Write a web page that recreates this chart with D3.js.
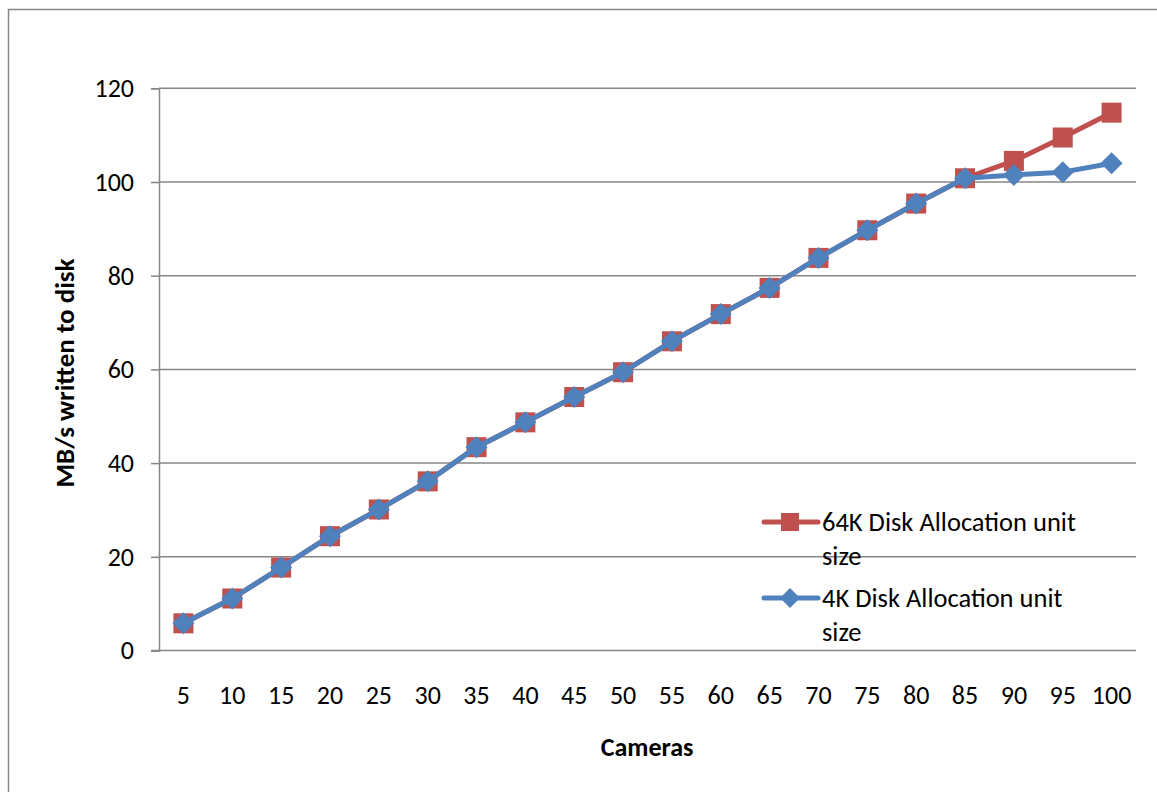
<!DOCTYPE html>
<html><head><meta charset="utf-8">
<script src="https://cdn.jsdelivr.net/npm/d3@7"></script>
<style>body{margin:0;background:#fff;}svg{display:block;font-family:Calibri,Carlito,Lato,sans-serif;}</style>
</head><body>
<svg id="chart" width="1157" height="792"></svg>
<script>
const categories = ["5","10","15","20","25","30","35","40","45","50","55","60","65","70","75","80","85","90","95","100"];
const series64K = [5.8,11.1,17.7,24.4,30.1,36.1,43.4,48.7,54.1,59.4,66.0,71.8,77.4,83.8,89.7,95.4,100.8,104.5,109.5,114.8];
const series4K  = [5.8,11.1,17.7,24.4,30.1,36.1,43.4,48.7,54.1,59.4,66.0,71.8,77.4,83.8,89.7,95.4,100.8,101.5,102.1,104.0];
const yTicks = [0,20,40,60,80,100,120];
const seriesNames = ["64K Disk Allocation unit size","4K Disk Allocation unit size"];

const svg = d3.select("#chart");
const pL=159, pR=1136, pT=88.3, pB=650.5;
const grid="#868686";
const FONT="Calibri,Carlito,Lato,sans-serif";
// outer border
svg.append("rect").attr("x",8.5).attr("y",9.5).attr("width",1200).attr("height",900)
  .attr("fill","none").attr("stroke",grid).attr("stroke-width",1.5);

const x = d3.scaleBand().domain(categories).range([pL,pR]);
const y = d3.scaleLinear().domain([0,120]).range([pB,pT]);

// gridlines
svg.append("g").selectAll("line").data(yTicks.filter(d=>d>0)).join("line")
  .attr("x1",pL).attr("x2",pR).attr("y1",d=>y(d)).attr("y2",d=>y(d))
  .attr("stroke",grid).attr("stroke-width",1.5);

// y axis
const yAxis = svg.append("g").attr("transform",`translate(${pL},0)`)
  .call(d3.axisLeft(y).tickValues(yTicks).tickSize(8).tickPadding(17));
yAxis.select(".domain").attr("stroke",grid).attr("stroke-width",1.5);
yAxis.selectAll(".tick line").attr("stroke",grid).attr("stroke-width",1.5);
yAxis.selectAll("text").attr("font-size",26).attr("fill","#000").attr("font-family",FONT);

// x axis
const xAxis = svg.append("g").attr("transform",`translate(0,${pB})`)
  .call(d3.axisBottom(x).tickSize(0).tickPadding(35));
xAxis.select(".domain").attr("d",`M${pL-8},0H${pR}`).attr("stroke",grid).attr("stroke-width",1.5);
xAxis.selectAll("text").attr("font-size",26).attr("fill","#000").attr("font-family",FONT);

const cx = c => x(c)+x.bandwidth()/2;
const line = d3.line().x((d,i)=>cx(categories[i])).y(d=>y(d));
const red="#C0504D", blue="#4F81BD";

function square(g, px, py, s){ g.append("rect").attr("x",px-s/2).attr("y",py-s/2).attr("width",s).attr("height",s).attr("fill",red); }
function diamond(g, px, py, s){ g.append("path").attr("d",`M${px},${py-s}L${px+s},${py}L${px},${py+s}L${px-s},${py}Z`).attr("fill",blue); }

const g64 = svg.append("g");
g64.append("path").datum(series64K).attr("d",line).attr("fill","none").attr("stroke",red).attr("stroke-width",5).attr("stroke-linejoin","round");
series64K.forEach((v,i)=>square(g64, cx(categories[i]), y(v), 20));

const g4 = svg.append("g");
g4.append("path").datum(series4K).attr("d",line).attr("fill","none").attr("stroke",blue).attr("stroke-width",5).attr("stroke-linejoin","round");
series4K.forEach((v,i)=>diamond(g4, cx(categories[i]), y(v), 11));

// axis titles
svg.append("text").attr("transform","translate(74,373) rotate(-90)").attr("text-anchor","middle")
  .attr("font-weight","bold").attr("font-size",27).text("MB/s written to disk");
svg.append("text").attr("x",647).attr("y",756).attr("text-anchor","middle")
  .attr("font-weight","bold").attr("font-size",26).text("Cameras");

// legend
const leg = svg.append("g");
const legItems = [{name:seriesNames[0],color:red,y:522,type:"sq"},{name:seriesNames[1],color:blue,y:598,type:"di"}];
legItems.forEach(it=>{
  leg.append("line").attr("x1",764).attr("x2",818).attr("y1",it.y).attr("y2",it.y).attr("stroke",it.color).attr("stroke-width",5).attr("stroke-linecap","round");
  if(it.type==="sq") square(leg,790,it.y,18); else diamond(leg,790,it.y,10);
  const words = it.name.split(" ");
  const t = leg.append("text").attr("x",822).attr("y",it.y+9).attr("font-size",26.5);
  t.append("tspan").attr("x",822).text(words.slice(0,-1).join(" "));
  t.append("tspan").attr("x",822).attr("dy",34).text(words[words.length-1]);
});
</script>
</body></html>
